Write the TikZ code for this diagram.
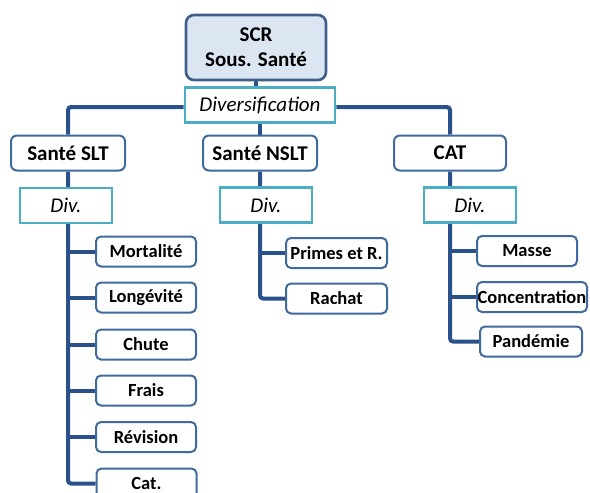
\documentclass[tikz,border=0pt]{standalone}
\usepackage{fontspec}
\setmainfont{Carlito}
\usetikzlibrary{backgrounds}
\definecolor{conncol}{HTML}{2A5189}
\definecolor{boxcol}{HTML}{3E6A9E}
\definecolor{topfill}{HTML}{DCE6F2}
\definecolor{topborder}{HTML}{3C5F8C}
\definecolor{divcol}{HTML}{4BACC6}
\tikzset{
  conn/.style={draw=conncol, line width=4pt, rounded corners=3pt},
  topbox/.style={draw=topborder, fill=topfill, line width=2.6pt, rounded corners=8pt,
    minimum width=140pt, minimum height=65pt, inner sep=0pt, align=center,
    font=\fontsize{21}{25}\selectfont\bfseries},
  divbox/.style={draw=divcol, fill=white, line width=2.8pt, inner sep=0pt,
    minimum height=35pt, font=\fontsize{21}{24}\selectfont\itshape},
  parbox/.style={draw=boxcol, fill=white, line width=2pt, rounded corners=6pt, inner sep=0pt,
    minimum width=114pt, minimum height=35pt, font=\fontsize{21}{24}\selectfont\bfseries},
  kidbox/.style={draw=boxcol, fill=white, line width=2pt, rounded corners=5pt, inner sep=0pt,
    minimum width=100pt, minimum height=30pt, font=\fontsize{18.5}{21}\selectfont\bfseries},
}
\begin{document}
\begin{tikzpicture}[x=1pt,y=-1pt]
\useasboundingbox (0,0) rectangle (590,493);
% top
\node[topbox] (scr) at (256,47.5) {SCR\\Sous. Santé};
\node[divbox, minimum width=150pt] (div0) at (260,105) {Diversification};
% parents
\node[parbox] (slt) at (68,153) {Santé SLT};
\node[parbox] (nslt) at (260,153) {Santé NSLT};
\node[parbox, minimum width=112pt] (cat) at (450,153) {CAT};
% div boxes
\node[divbox, minimum width=92pt] (divA) at (66,205.5) {Div.};
\node[divbox, minimum width=92pt] (divB) at (266,205) {Div.};
\node[divbox, minimum width=92pt] (divC) at (470,205) {Div.};
% SLT children
\node[kidbox] (mort) at (146,251.5) {Mortalité};
\node[kidbox] (longe) at (146,297.5) {Longévité};
\node[kidbox] (chute) at (146,344.5) {Chute};
\node[kidbox] (frais) at (146,390.5) {Frais};
\node[kidbox] (revi) at (146,437) {Révision};
\node[kidbox] (catA) at (146.5,483.5) {Cat.};
% NSLT children
\node[kidbox, minimum width=101pt] (prim) at (336.5,253) {Primes et R.};
\node[kidbox, minimum width=101pt] (rach) at (336.5,298.5) {Rachat};
% CAT children
\node[kidbox] (masse) at (527,251) {Masse};
\node[kidbox, minimum width=110pt] (conc) at (532,297) {Concentration};
\node[kidbox, minimum width=102pt] (pand) at (531,341.5) {Pandémie};
\begin{scope}[on background layer]
  \draw[conn] (scr.south) -- (scr.south |- div0.north);
  \draw[conn] (slt.north) |- ([yshift=-2pt]div0.west);
  \draw[conn] (cat.north) |- ([yshift=-2pt]div0.east);
  \draw[conn] (div0.south) -- (nslt.north);
  % SLT trunk
  \draw[conn] (slt.south) |- (catA.west);
  \foreach \k in {mort,longe,chute,frais,revi}
    \draw[conn] (slt.south |- \k.west) -- (\k.west);
  % NSLT trunk
  \draw[conn] (nslt.south) |- (rach.west);
  \draw[conn] (nslt.south |- prim.west) -- (prim.west);
  % CAT trunk
  \draw[conn] (cat.south) |- (pand.west);
  \foreach \k in {masse,conc}
    \draw[conn] (cat.south |- \k.west) -- (\k.west);
\end{scope}
\end{tikzpicture}
\end{document}
